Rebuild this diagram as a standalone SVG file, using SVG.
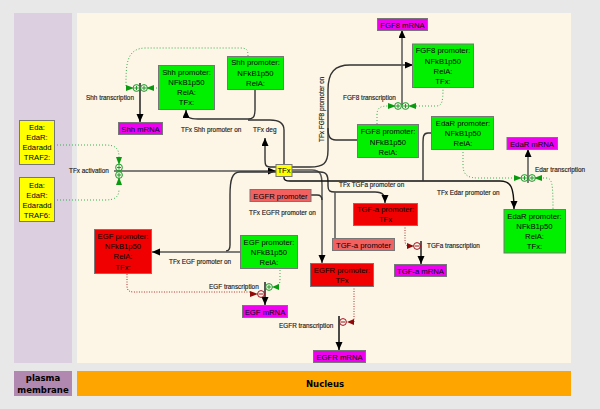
<svg xmlns="http://www.w3.org/2000/svg" width="600" height="409" viewBox="0 0 600 409">
<style>
text{font-family:"Liberation Sans",Arial,sans-serif;fill:#000}
.n rect{stroke:#777;stroke-width:1}
.n text{font-size:7.7px;text-anchor:middle}
.g rect{fill:#00f000}.r rect{fill:#f00000}.y rect{fill:#ffff00}.m rect{fill:#f000f0}.p rect{fill:#f26060}
.l{font-size:6.4px;fill:#222;stroke:#222;stroke-width:.15}
.c{fill:none;stroke:#333;stroke-width:1.4}
.k{fill:none;stroke:#555;stroke-width:1.5}
.dg{fill:none;stroke:#33b050;stroke-width:1;stroke-dasharray:1 2}
.dr{fill:none;stroke:#b03030;stroke-width:1;stroke-dasharray:1 1.5}
.plus{fill:none;stroke:#1a9a2a;stroke-width:1}
.minus{fill:none;stroke:#a01020;stroke-width:1}
.ag{fill:#0a9a10}.ar{fill:#900808}
</style>
<defs>
<marker id="a" markerUnits="userSpaceOnUse" markerWidth="9" markerHeight="8" refX="8" refY="3.500" orient="auto"><path d="M0 0L8 3.500L0 7Z" fill="#000"/></marker>
<g id="pl"><circle r="3.4" class="plus"/><path d="M-2.2 0H2.2M0-2.2V2.2" class="plus"/></g>
<g id="mi"><circle r="3.4" class="minus"/><path d="M-2.2 0H2.2" class="minus"/></g>
</defs>
<rect width="600" height="409" fill="#e8e8e8"/>
<rect x="14" y="13" width="58" height="350" fill="#dccfdf"/>
<rect x="77" y="13" width="494" height="350" fill="#fdf6e6"/>
<rect x="14" y="371" width="58" height="25" fill="#b088b0"/>
<rect x="77" y="371" width="494" height="25" fill="#ffa500"/>
<text x="43" y="381" text-anchor="middle" font-size="8.5" font-weight="bold" style="font-family:'DejaVu Sans',sans-serif">plasma</text>
<text x="43" y="393" text-anchor="middle" font-size="8.5" font-weight="bold" style="font-family:'DejaVu Sans',sans-serif">membrane</text>
<text x="306" y="387" font-size="8.5" font-weight="bold" style="font-family:'DejaVu Sans',sans-serif">Nucleus</text>

<g id="connectors">
<path class="dg" d="M126 86C126 65 126 48 146 48H240C247 48 248 50 248 56"/>
<path class="dg" d="M153 88H158"/>
<path class="k" d="M140 83V122" marker-end="url(#a)" style="stroke:#222"/>
<path class="c" d="M255 89V110C255 118 252 119 248 119H198C190 119 186 118 186 110" marker-end="url(#a)"/>
<path class="c" d="M284 164V130C284 122 278 120 270 120H248"/>
<path class="dg" d="M54 145H105C115 145 119 148 119 157"/>
<path class="dg" d="M54 200H105C115 200 119 197 119 189"/>
<path class="k" d="M114 171H276" marker-end="url(#a)"/>
<path class="c" d="M276 167H270C265 167 265 164 265 158V138" marker-end="url(#a)"/>
<path class="c" d="M292 167H310C323 167 328 164 328 150V90C328 72 335 65 350 65H413" marker-end="url(#a)"/>
<path class="c" d="M357 140H336C329 140 328 135 328 128"/>
<path class="k" d="M292 170H312C320 170 322 174 322 185V263" marker-end="url(#a)"/>
<path class="c" d="M292 172H320C327 172 328 176 328 182V186C328 191 330 192 335 192H375C384 192 385 196 385 203" marker-end="url(#a)"/>
<path class="c" d="M284 176V178C284 180 285 181 290 181H500C511 181 514 187 514 209" marker-end="url(#a)" style="stroke:#111"/>
<path class="c" d="M431 133H428C423 133 423 137 423 145V181"/>
<path class="c" d="M276 172H240C232 172 230 180 230 195V245C230 249 228 251 226 251"/>
<path class="c" d="M311 195H317C320 195 322 197 322 200"/>
<path class="k" d="M335 238V192"/>
<path class="k" d="M240 252H152" marker-end="url(#a)"/>
<path class="k" d="M402 105V30" marker-end="url(#a)"/>
<path class="dg" d="M377 124V115C377 108 380 106 388 106H392"/>
<path class="dg" d="M413 106H436C442 106 443 102 443 88"/>
<path class="k" d="M528 183V149" marker-end="url(#a)"/>
<path class="dg" d="M463 149V165C463 175 468 178 478 178H515"/>
<path class="dg" d="M543 178H546C552 178 553 183 553 209"/>
<path class="dr" d="M127 274V286C127 291 130 292 134 292H250"/>
<path class="k" d="M265 282V305" marker-end="url(#a)" style="stroke:#222"/>
<path class="dg" d="M280 270V279C280 284 279 285 277 285"/>
<path class="dr" d="M405 225V239C405 244 406 246 408 246"/>
<path class="k" d="M421 241V264" marker-end="url(#a)" style="stroke:#222"/>
<path class="dr" d="M354 286V322"/>
<path class="k" d="M339 316V350" marker-end="url(#a)" style="stroke:#111"/>
</g>

<g id="modifiers">
<path class="ag" d="M126 85L134 88L126 91Z"/><use href="#pl" x="136.500" y="88"/><use href="#pl" x="144" y="88"/><path class="ag" d="M154 85L146 88L154 91Z"/>
<path class="ag" d="M116 157L119 165L122 157Z"/><use href="#pl" x="119" y="167.500"/><use href="#pl" x="119" y="175"/><path class="ag" d="M116 185L119 177L122 185Z"/>
<path class="ag" d="M388 103L396 106L388 109Z"/><use href="#pl" x="398" y="106"/><use href="#pl" x="405.500" y="106"/><path class="ag" d="M416 103L408 106L416 109Z"/>
<path class="ag" d="M514 175L522 178L514 181Z"/><use href="#pl" x="524.500" y="178"/><use href="#pl" x="532" y="178"/><path class="ag" d="M542 175L534 178L542 181Z"/>
<use href="#pl" x="269" y="287"/><path class="ag" d="M279 284L272 287L279 290Z"/>
<path class="ar" d="M250 291L258 294L250 297Z"/><use href="#mi" x="261" y="294"/>
<path class="ar" d="M407 243L414 246L407 249Z"/><use href="#mi" x="417" y="246"/>
<path class="ar" d="M354 319L347 322L354 325Z"/><use href="#mi" x="343" y="322"/>
</g>

<g id="shh-p2" class="n g"><rect x="227.500" y="56.500" width="56" height="33"/><text x="255.500" y="65">Shh promoter:</text><text x="255.500" y="76">NFkB1p50</text><text x="255.500" y="86">RelA:</text></g>
<g id="shh-p1" class="n g"><rect x="158.500" y="65.500" width="56" height="44"/><text x="186.500" y="75">Shh promoter:</text><text x="186.500" y="85">NFkB1p50</text><text x="186.500" y="95">RelA:</text><text x="186.500" y="105">TFx:</text></g>
<g id="shh-m" class="n m"><rect x="118.500" y="122.500" width="44" height="12"/><text x="140.500" y="131.500">Shh mRNA</text></g>
<g id="eda1" class="n y"><rect x="19.500" y="120.500" width="35" height="44"/><text x="37" y="129.500">Eda:</text><text x="37" y="140">EdaR:</text><text x="37" y="150">Edaradd</text><text x="37" y="160">TRAF2:</text></g>
<g id="eda2" class="n y"><rect x="19.500" y="177.500" width="35" height="44"/><text x="37" y="187.500">Eda:</text><text x="37" y="198">EdaR:</text><text x="37" y="208">Edaradd</text><text x="37" y="218">TRAF6:</text></g>
<g id="tfx" class="n y"><rect x="276" y="164.500" width="16" height="12"/><text x="284" y="173">TFx</text></g>
<g id="egfr-p0" class="n p"><rect x="250" y="189.500" width="61" height="12"/><text x="280.500" y="198.500">EGFR promoter</text></g>
<g id="fgf-m" class="n m"><rect x="377.500" y="18.500" width="50" height="12"/><text x="402.500" y="27.500">FGF8 mRNA</text></g>
<g id="fgf-p2" class="n g"><rect x="412.500" y="44" width="61" height="43.500"/><text x="443" y="53">FGF8 promoter:</text><text x="443" y="63.500">NFkB1p50</text><text x="443" y="73.500">RelA:</text><text x="443" y="84">TFx:</text></g>
<g id="fgf-p1" class="n g"><rect x="357.500" y="124.500" width="61" height="33"/><text x="388" y="134">FGF8 promoter:</text><text x="388" y="144.500">NFkB1p50</text><text x="388" y="154.500">RelA:</text></g>
<g id="edar-p1" class="n g"><rect x="431.500" y="116.500" width="62" height="33"/><text x="463" y="126">EdaR promoter:</text><text x="463" y="136">NFkB1p50</text><text x="463" y="146">RelA:</text></g>
<g id="edar-m" class="n m"><rect x="507" y="137.500" width="50.500" height="12"/><text x="532" y="146.500">EdaR mRNA</text></g>
<g id="edar-p2" class="n g"><rect x="504" y="209.500" width="61.500" height="43.500"/><text x="534.500" y="219">EdaR promoter:</text><text x="534.500" y="229">NFkB1p50</text><text x="534.500" y="239">RelA:</text><text x="534.500" y="249">TFx:</text></g>
<g id="tgf-p2" class="n r"><rect x="353.500" y="203.500" width="64" height="22"/><text x="385.500" y="211.500">TGF-a promoter:</text><text x="385.500" y="221.500">TFx</text></g>
<g id="tgf-p1" class="n p"><rect x="332.500" y="238.500" width="62" height="12"/><text x="363.500" y="247.500">TGF-a promoter</text></g>
<g id="egfr-p2" class="n r"><rect x="310.500" y="263.500" width="63" height="23"/><text x="342" y="272.500">EGFR promoter:</text><text x="342" y="283">TFx</text></g>
<g id="tgf-m" class="n m"><rect x="394.500" y="264.500" width="52" height="12"/><text x="420.500" y="273.500">TGF-a mRNA</text></g>
<g id="egfr-m" class="n m"><rect x="313.500" y="350.500" width="52" height="12"/><text x="339.500" y="359.500">EGFR mRNA</text></g>
<g id="egf-p2" class="n r"><rect x="94.500" y="229.500" width="57" height="44"/><text x="123" y="239">EGF promoter:</text><text x="123" y="249">NFkB1p50</text><text x="123" y="259">RelA:</text><text x="123" y="269.500">TFx:</text></g>
<g id="egf-p1" class="n g"><rect x="240.500" y="235.500" width="57" height="33"/><text x="269" y="244.500">EGF promoter:</text><text x="269" y="254.500">NFkB1p50</text><text x="269" y="264.500">RelA:</text></g>
<g id="egf-m" class="n m"><rect x="242.500" y="305.500" width="45" height="12"/><text x="265" y="314.500">EGF mRNA</text></g>

<g id="labels">
<text class="l" x="86" y="100">Shh transcription</text>
<text class="l" x="181" y="132">TFx Shh promoter on</text>
<text class="l" x="253" y="132">TFx deg</text>
<text class="l" x="69" y="173">TFx activation</text>
<text class="l" x="343" y="100">FGF8 transcription</text>
<text class="l" transform="translate(324 142) rotate(-90)">TFx FGF8 promoter on</text>
<text class="l" x="339" y="187">TFx TGFa promoter on</text>
<text class="l" x="437" y="195">TFx Edar promoter on</text>
<text class="l" x="535" y="172">Edar transcription</text>
<text class="l" x="249" y="215">TFx EGFR promoter on</text>
<text class="l" x="169" y="264">TFx EGF promoter on</text>
<text class="l" x="209" y="289">EGF transcription</text>
<text class="l" x="427" y="248">TGFa transcription</text>
<text class="l" x="279" y="328">EGFR transcription</text>
</g>
</svg>
